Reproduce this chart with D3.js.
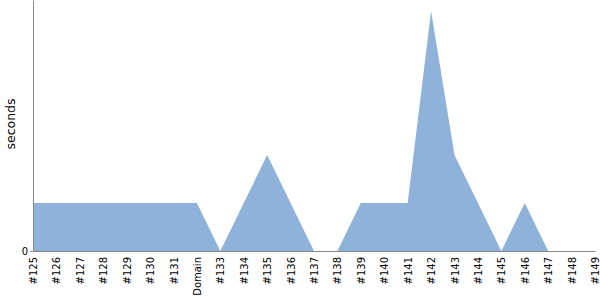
<!DOCTYPE html>
<html><head><meta charset="utf-8">
<script src="https://cdn.jsdelivr.net/npm/d3@7"></script>
<style>body{margin:0;background:#fff}svg{display:block}svg text{font-family:'DejaVu Sans',Verdana,sans-serif !important}</style>
</head><body><svg id="c" width="600" height="300"></svg>
<script>
const categories = ["#125","#126","#127","#128","#129","#130","#131","Domain","#133","#134","#135","#136","#137","#138","#139","#140","#141","#142","#143","#144","#145","#146","#147","#148","#149"];
const values = [1,1,1,1,1,1,1,1,0,1,2,1,0,0,1,1,1,5,2,1,0,1,0,0,0];
const yTicks = [0];

const svg = d3.select("#c");
const x = d3.scalePoint().domain(categories).range([33, 595]);
const y = d3.scaleLinear().domain([0, 251/48]).range([251, 0]);

svg.append("path").datum(values)
  .attr("fill", "#8fb2db")
  .attr("d", d3.area().x((d,i)=>x(categories[i])).y0(y(0)).y1(d=>y(d)));

const xa = svg.append("g").attr("transform","translate(0,251)")
  .call(d3.axisBottom(x).tickSize(0).tickPadding(6));
xa.select(".domain").attr("stroke","#888");
xa.selectAll("text").attr("transform","rotate(-90)").attr("text-anchor","end")
  .attr("x",-6).attr("y",0).attr("dy","0.35em").attr("font-size",10).attr("fill","#000");

const ya = svg.append("g").attr("transform","translate(33,0)")
  .call(d3.axisLeft(y).tickValues(yTicks).tickFormat(d3.format("d")).tickSize(3).tickSizeOuter(0).tickPadding(2));
ya.select(".domain").attr("stroke","#888");
ya.selectAll(".tick line").attr("stroke","#888");
ya.selectAll("text").attr("font-size",10).attr("fill","#000");

svg.append("text").attr("transform","translate(15,124) rotate(-90)")
  .attr("text-anchor","middle").attr("font-size",12.5).text("seconds");
</script></body></html>
